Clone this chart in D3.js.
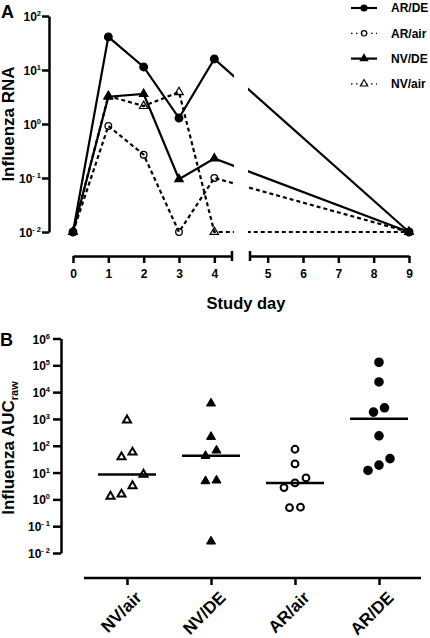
<!DOCTYPE html>
<html>
<head>
<meta charset="utf-8">
<script src="https://cdn.jsdelivr.net/npm/d3@7/dist/d3.min.js"></script>
<style>
  html, body { margin: 0; padding: 0; background: #fff; }
  svg { display: block; }
  text { font-family: "Liberation Sans", Arial, sans-serif; font-weight: bold; fill: #000; }
</style>
</head>
<body>
<svg id="chart" width="430" height="638"></svg>
<script>
// ---------- Panel A data ----------
const days = [0, 1, 2, 3, 4, 9];
const seriesNames = ["AR/DE", "AR/air", "NV/DE", "NV/air"];
const arDE_RNA  = [0.01, 41, 11.4, 1.29, 16, 0.01];
const arAir_RNA = [0.01, 0.92, 0.27, 0.01, 0.1, 0.01];
const nvDE_RNA  = [0.01, 3.2, 3.6, 0.095, 0.23, 0.01];
const nvAir_RNA = [0.01, 3.3, 2.15, 3.9, 0.01, 0.01];
const dayTicks1 = [0, 1, 2, 3, 4];
const dayTicks2 = [5, 6, 7, 8, 9];
const rnaTicks = [-2, -1, 0, 1, 2];

// ---------- Panel B data ----------
const groups = ["NV/air", "NV/DE", "AR/air", "AR/DE"];
const nvAir_AUC = [900, 57, 38, 8.5, 3.2, 1.55, 1.3];
const nvDE_AUC  = [3800, 215, 67, 42, 5.1, 4.8, 0.027];
const arAir_AUC = [74, 21, 6.3, 4.1, 2.75, 0.51, 0.49];
const arDE_AUC  = [130000, 24000, 2600, 1800, 235, 33, 19, 12];
const aucTicks = [-2, -1, 0, 1, 2, 3, 4, 5, 6];

const svg = d3.select("#chart");

// ---------- styles ----------
const styleA = {
  "AR/DE":  {sym: "circle",   filled: true,  dash: null},
  "AR/air": {sym: "circle",   filled: false, dash: "4,3"},
  "NV/DE":  {sym: "triangle", filled: true,  dash: null},
  "NV/air": {sym: "triangle", filled: false, dash: "4,3"}
};
const rnaData = {"AR/DE": arDE_RNA, "AR/air": arAir_RNA, "NV/DE": nvDE_RNA, "NV/air": nvAir_RNA};
const aucData = {"NV/air": nvAir_AUC, "NV/DE": nvDE_AUC, "AR/air": arAir_AUC, "AR/DE": arDE_AUC};
const styleB = {
  "NV/air": {sym: "triangle", filled: false},
  "NV/DE":  {sym: "triangle", filled: true},
  "AR/air": {sym: "circle",   filled: false},
  "AR/DE":  {sym: "circle",   filled: true}
};

function drawMarker(g, x, y, sym, filled, size, sw) {
  if (sym === "circle") {
    g.append("circle").attr("cx", x).attr("cy", y).attr("r", size)
      .attr("fill", filled ? "#000" : "none").attr("stroke", "#000").attr("stroke-width", sw);
  } else {
    const area = Math.sqrt(3) / 4 * size * size;
    g.append("path").attr("d", d3.symbol(d3.symbolTriangle, area)())
      .attr("transform", `translate(${x},${y})`)
      .attr("fill", filled ? "#000" : "none").attr("stroke", "#000").attr("stroke-width", sw)
      .attr("stroke-linejoin", "miter");
  }
}

function powLabel(g, y, exp, anchorX, fs) {
  const t = g.append("text").attr("x", anchorX).attr("y", y).attr("text-anchor", "end")
    .attr("font-size", fs).attr("dy", "0.42em");
  t.append("tspan").text("10");
  t.append("tspan").attr("font-size", fs * 0.62).attr("dy", -fs * 0.42)
    .text(exp < 0 ? "- " + Math.abs(exp) : String(exp));
}

// ================= Panel A =================
const gA = svg.append("g");
const yA = d3.scaleLog().domain([0.01, 100]).range([232, 16]);
const xA1 = d3.scaleLinear().domain([0, 4.5]).range([73, 232]);
const xA2 = d3.scaleLinear().domain([4.5, 9]).range([250, 409]);
const xA = d => d <= 4.5 ? xA1(d) : xA2(d);

// y axis
const yAxisA = gA.append("g").attr("transform", "translate(49,0)")
  .call(d3.axisLeft(yA).tickValues(rnaTicks.map(e => Math.pow(10, e))).tickSize(7).tickSizeOuter(0).tickFormat(""));
yAxisA.selectAll("path,line").attr("stroke", "#000").attr("stroke-width", 2.5);
rnaTicks.forEach(e => powLabel(gA, yA(Math.pow(10, e)), e, 41, 12));

// x axis (broken)
function xAxisSeg(scale, ticks) {
  const a = gA.append("g").attr("transform", "translate(0,256)")
    .call(d3.axisBottom(scale).tickValues(ticks).tickSize(7).tickSizeOuter(0).tickPadding(6).tickFormat(d3.format("d")));
  a.selectAll("path,line").attr("stroke", "#000").attr("stroke-width", 2.5);
  a.selectAll("text").attr("font-size", 12).attr("font-family", "Liberation Sans, Arial, sans-serif").attr("font-weight", "bold");
  return a;
}
xAxisSeg(xA1, dayTicks1);
xAxisSeg(xA2, dayTicks2);
[xA1(4.5), xA2(4.5)].forEach(x => {
  gA.append("line").attr("x1", x).attr("x2", x).attr("y1", 251).attr("y2", 261)
    .attr("stroke", "#000").attr("stroke-width", 2.5);
});

// lines
const lineGen = d3.line().x(d => xA(d[0])).y(d => yA(d[1]));
const order = ["NV/air", "AR/air", "NV/DE", "AR/DE"];
order.forEach(name => {
  const pts = days.map((d, i) => [d, rnaData[name][i]]);
  gA.append("path").attr("d", lineGen(pts)).attr("fill", "none").attr("stroke", "#000")
    .attr("stroke-width", 2.2).attr("stroke-dasharray", styleA[name].dash);
});
// break gap mask
gA.append("rect").attr("x", xA1(4.5) + 2).attr("y", 0).attr("width", xA2(4.5) - xA1(4.5) - 4).attr("height", 245).attr("fill", "#fff");

// markers
order.forEach(name => {
  const st = styleA[name];
  days.forEach((d, i) => {
    const v = rnaData[name][i];
    if (st.sym === "circle") drawMarker(gA, xA(d), yA(v), "circle", st.filled, st.filled ? 3.8 : 3.3, 1.3);
    else drawMarker(gA, xA(d), yA(v), "triangle", st.filled, 8.5, 1.2);
  });
});

// legend
seriesNames.forEach((name, i) => {
  const y = 8 + i * 25.3;
  const st = styleA[name];
  gA.append("line").attr("x1", 351).attr("x2", 377).attr("y1", y).attr("y2", y)
    .attr("stroke", "#000").attr("stroke-width", st.dash ? 1.2 : 2.2)
    .attr("stroke-dasharray", st.dash ? "1.5,3.5" : null);
  if (st.sym === "circle") drawMarker(gA, 364, y, "circle", st.filled, st.filled ? 3 : 2.7, 1.1);
  else drawMarker(gA, 364, y, "triangle", st.filled, 7.5, 1.1);
  gA.append("text").attr("x", 391).attr("y", y).attr("dy", "0.36em").attr("font-size", 12).text(name);
});

// titles
gA.append("text").attr("x", 1).attr("y", 18).attr("font-size", 18).text("A");
gA.append("text").attr("transform", "translate(14,124) rotate(-90)").attr("text-anchor", "middle")
  .attr("font-size", 17).text("Influenza RNA");
gA.append("text").attr("x", 246).attr("y", 309).attr("text-anchor", "middle").attr("font-size", 16.5).text("Study day");

// ================= Panel B =================
const gB = svg.append("g");
const yB = d3.scaleLog().domain([0.01, 1e6]).range([553, 338.5]);
const xB = d3.scalePoint().domain(groups).range([127, 379]);

const yAxisB = gB.append("g").attr("transform", "translate(61,0)")
  .call(d3.axisLeft(yB).tickValues(aucTicks.map(e => Math.pow(10, e))).tickSize(8).tickSizeOuter(0).tickFormat(""));
yAxisB.selectAll("path,line").attr("stroke", "#000").attr("stroke-width", 2.5);
aucTicks.forEach(e => powLabel(gB, yB(Math.pow(10, e)), e, 50, 12));

const xAxisB = gB.append("g").attr("transform", "translate(0,578)")
  .call(d3.axisBottom(xB).tickSize(7).tickSizeOuter(0).tickFormat(""));
xAxisB.select(".domain").attr("d", "M84,0H421");
xAxisB.selectAll("path,line").attr("stroke", "#000").attr("stroke-width", 2.5);
groups.forEach(gname => {
  gB.append("text").attr("transform", `translate(${xB(gname) + 7},590) rotate(-45)`)
    .attr("text-anchor", "end").attr("dy", "0.72em").attr("font-size", 17).text(gname);
});

// dodge points into rows
function dodge(values) {
  const pts = values.map(v => ({v, y: yB(v)})).sort((a, b) => a.y - b.y);
  const grps = [];
  pts.forEach(p => {
    const last = grps[grps.length - 1];
    if (last && p.y - last[last.length - 1].y < 12) last.push(p);
    else grps.push([p]);
  });
  grps.forEach(g => {
    g.sort((a, b) => b.y - a.y);
    g.forEach((p, i) => p.dx = (i - (g.length - 1) / 2) * 11);
  });
  return pts;
}

groups.forEach(gname => {
  const vals = aucData[gname];
  const st = styleB[gname];
  const cx = xB(gname);
  const med = d3.median(vals);
  gB.append("line").attr("x1", cx - 29).attr("x2", cx + 29).attr("y1", yB(med)).attr("y2", yB(med))
    .attr("stroke", "#000").attr("stroke-width", 2.5);
  dodge(vals).forEach(p => {
    if (st.sym === "circle") drawMarker(gB, cx + p.dx, p.y, "circle", st.filled, st.filled ? 3.8 : 3.4, 2);
    else drawMarker(gB, cx + p.dx, p.y, "triangle", st.filled, st.filled ? 9 : 8, st.filled ? 1 : 2);
  });
});

gB.append("text").attr("x", 0).attr("y", 346).attr("font-size", 18).text("B");
const lblB = gB.append("text").attr("transform", "translate(14,448) rotate(-90)").attr("text-anchor", "middle")
  .attr("font-size", 17);
lblB.append("tspan").text("Influenza AUC");
lblB.append("tspan").attr("font-size", 11).attr("dy", 4).text("raw");
</script>
</body>
</html>
